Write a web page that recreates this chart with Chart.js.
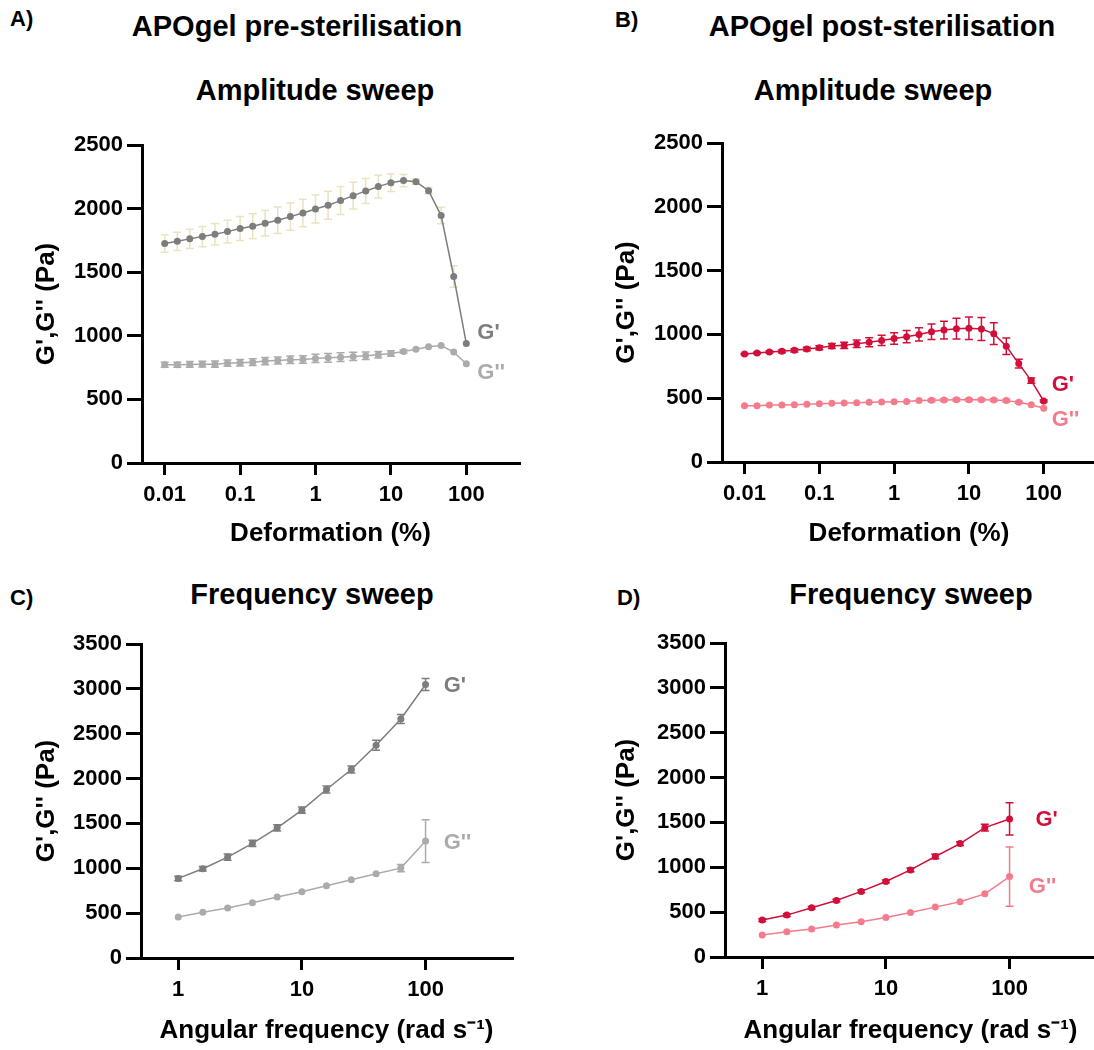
<!DOCTYPE html>
<html>
<head>
<meta charset="utf-8">
<script src="https://cdn.jsdelivr.net/npm/chart.js@4.4.0/dist/chart.umd.min.js"></script>
<style>
  html, body { margin: 0; padding: 0; background: #fff; overflow: hidden; }
  #page { position: relative; width: 1094px; height: 1050px; overflow: hidden; font-family: 'Liberation Sans', Arial, sans-serif; font-weight: bold; color: #000; }
  .t { position: absolute; white-space: nowrap; line-height: 1; }
  .panel { font-size: 22px; }
  .big { font-size: 29px; transform: translateX(-50%); }
  canvas { position: absolute; }
</style>
</head>
<body>
<div id="page">
  <div class="t panel" style="left:10px; top:8px;">A)</div>
  <div class="t panel" style="left:615px; top:9px;">B)</div>
  <div class="t panel" style="left:10px; top:587px;">C)</div>
  <div class="t panel" style="left:617px; top:587px;">D)</div>

  <div class="t big" style="left:297px; top:12px;">APOgel pre-sterilisation</div>
  <div class="t big" style="left:882px; top:12px;">APOgel post-sterilisation</div>
  <div class="t big" style="left:315px; top:76px;">Amplitude sweep</div>
  <div class="t big" style="left:873px; top:76px;">Amplitude sweep</div>
  <div class="t big" style="left:312px; top:580px;">Frequency sweep</div>
  <div class="t big" style="left:911px; top:580px;">Frequency sweep</div>

  <canvas id="cA" width="547" height="440" style="left:0px; top:120px;"></canvas>
  <canvas id="cB" width="540" height="440" style="left:560px; top:120px;"></canvas>
  <canvas id="cC" width="547" height="430" style="left:0px; top:620px;"></canvas>
  <canvas id="cD" width="540" height="430" style="left:560px; top:620px;"></canvas>
</div>
<script>
// strain (%) for amplitude sweeps, 6 points per decade
const strain = [0.01, 0.0147, 0.0215, 0.0316, 0.0464, 0.0681, 0.1, 0.147, 0.215, 0.316, 0.464, 0.681,
                1, 1.47, 2.15, 3.16, 4.64, 6.81, 10, 14.7, 21.5, 31.6, 46.4, 68.1, 100];
// angular frequency (rad/s), 5 points per decade
const freq = [1, 1.58, 2.51, 3.98, 6.31, 10, 15.8, 25.1, 39.8, 63.1, 100];

const strainTicks = [0.01, 0.1, 1, 10, 100];
const freqTicks = [1, 10, 100];

// A) pre-sterilisation, amplitude sweep
const preAmpG1 = [1725,1743,1762,1780,1798,1819,1843,1861,1885,1908,1937,1966,1997,2026,2063,2102,2139,2173,2204,2220,2212,2141,1945,1466,940];
const preAmpG1err = [69,72,76,80,85,90,94,98,101,104,107,108,110,110,110,105,98,89,69,48,20,24,65,85,0];
const preAmpG2 = [772,772,775,777,777,785,788,793,801,806,812,814,822,827,832,838,843,851,861,877,895,914,924,872,780];
const preAmpG2err = [20,20,22,22,24,24,26,26,28,28,30,30,32,34,34,32,30,26,22,12,0,0,0,0,0];

// B) post-sterilisation, amplitude sweep
const postAmpG1 = [846,854,862,867,875,886,896,909,914,927,938,953,967,982,1000,1021,1034,1045,1048,1042,1006,907,771,638,478];
const postAmpG1err = [5,6,8,10,12,14,16,20,25,30,35,40,45,48,52,60,70,82,88,90,86,65,35,20,8];
const postAmpG2 = [441,441,447,447,449,452,457,460,462,465,468,470,473,475,481,483,486,488,488,488,486,481,468,449,421];
const postAmpG2err = [0,0,0,0,0,0,0,0,0,0,0,0,0,0,0,10,10,10,10,10,10,10,8,0,0];

// C) pre-sterilisation, frequency sweep
const preFreqG1 = [887,995,1125,1277,1451,1648,1878,2101,2372,2665,3048];
const preFreqG1err = [25,25,35,35,35,35,38,40,55,50,67];
const preFreqG2 = [457,509,557,616,679,739,805,872,939,1002,1303];
const preFreqG2err = [0,0,0,0,0,0,0,0,0,40,238];

// D) post-sterilisation, frequency sweep
const postFreqG1 = [412,467,549,630,731,842,971,1120,1264,1442,1539];
const postFreqG1err = [15,15,15,15,15,15,22,25,20,37,180];
const postFreqG2 = [245,282,311,356,393,441,497,556,615,704,897];
const postFreqG2err = [0,0,0,0,0,0,0,0,0,0,330];

const grey1 = '#7d7d7d', grey2 = '#ababab', beige = '#ebe2bf';
const red1 = '#d0103a', red2 = '#f47b8c';

Chart.defaults.font.family = "'Liberation Sans', Arial, sans-serif";
Chart.defaults.font.weight = 'bold';
Chart.defaults.color = '#000';

// draws mean +/- SD bars under the points
const errorBars = {
  id: 'errorBars',
  beforeDatasetsDraw(chart) {
    const ctx = chart.ctx;
    const xs = chart.scales.x, ys = chart.scales.y;
    chart.data.datasets.forEach((ds) => {
      if (!ds.errors) return;
      ctx.save();
      ctx.strokeStyle = ds.errorColor || ds.borderColor;
      ctx.lineWidth = 1.5;
      ds.data.forEach((p, i) => {
        const e = ds.errors[i];
        if (!e) return;
        const x = xs.getPixelForValue(p.x);
        const y1 = ys.getPixelForValue(p.y - e);
        const y2 = ys.getPixelForValue(p.y + e);
        ctx.beginPath();
        ctx.moveTo(x, y1); ctx.lineTo(x, y2);
        ctx.moveTo(x - 4, y1); ctx.lineTo(x + 4, y1);
        ctx.moveTo(x - 4, y2); ctx.lineTo(x + 4, y2);
        ctx.stroke();
      });
      ctx.restore();
    });
  }
};

// G' / G'' labels next to the curve ends
function sideLabels(labels) {
  return {
    id: 'sideLabels',
    afterDatasetsDraw(chart) {
      const ctx = chart.ctx;
      ctx.save();
      ctx.font = "bold 22px 'Liberation Sans', Arial, sans-serif";
      ctx.textAlign = 'left';
      ctx.textBaseline = 'middle';
      labels.forEach((l) => {
        ctx.fillStyle = l.color;
        ctx.fillText(l.text, chart.scales.x.getPixelForValue(l.x), chart.scales.y.getPixelForValue(l.y));
      });
      ctx.restore();
    }
  };
}

function points(xs, ys) {
  return xs.map((x, i) => ({ x: x, y: ys[i] }));
}

function series(xs, ys, errs, color, errColor) {
  return {
    data: points(xs, ys),
    errors: errs,
    errorColor: errColor,
    borderColor: color,
    backgroundColor: color,
    borderWidth: 1.5,
    pointRadius: 3.5,
    pointBorderWidth: 0,
    pointBackgroundColor: color,
    tension: 0
  };
}

function makeChart(id, o) {
  return new Chart(document.getElementById(id), {
    type: 'line',
    data: { datasets: o.datasets },
    plugins: [errorBars, sideLabels(o.labels)],
    options: {
      responsive: false,
      animation: false,
      layout: { padding: o.pad },
      plugins: { legend: { display: false }, tooltip: { enabled: false } },
      scales: {
        x: {
          type: 'logarithmic',
          min: o.xmin, max: o.xmax,
          afterBuildTicks: (s) => { s.ticks = o.xticks.map((v) => ({ value: v })); },
          afterFit: (s) => { s.height = o.xh; },
          ticks: { font: { size: 22 }, padding: 7, maxRotation: 0, autoSkip: false, callback: (v) => String(v) },
          grid: { drawOnChartArea: false, drawTicks: true, tickLength: 12, lineWidth: 3, color: '#000' },
          border: { display: true, width: 3, color: '#000' },
          title: { display: true, text: o.xtitle, font: { size: 26 }, padding: { top: 0, bottom: o.xtpad } }
        },
        y: {
          min: 0, max: o.ymax,
          afterFit: (s) => { s.width = o.yw; },
          ticks: { stepSize: 500, font: { size: 22 }, padding: 4, callback: (v) => String(v) },
          grid: { drawOnChartArea: false, drawTicks: true, tickLength: 15, lineWidth: 3, color: '#000' },
          border: { display: true, width: 3, color: '#000' },
          title: { display: true, text: "G',G'' (Pa)", font: { size: 26 }, padding: { top: o.ytpad, bottom: 0 } }
        }
      }
    }
  });
}

makeChart('cA', {
  datasets: [series(strain, preAmpG1, preAmpG1err, grey1, beige), series(strain, preAmpG2, preAmpG2err, grey2)],
  labels: [{ text: "G'", x: 140, y: 1026, color: grey1 }, { text: "G''", x: 140, y: 707, color: grey2 }],
  pad: { left: 0, top: 25, right: 28, bottom: 0 },
  xmin: 0.005, xmax: 500, xticks: strainTicks, xh: 97, yw: 142, ymax: 2500,
  xtitle: 'Deformation (%)', xtpad: 11, ytpad: 31
});

makeChart('cB', {
  datasets: [series(strain, postAmpG1, postAmpG1err, red1), series(strain, postAmpG2, postAmpG2err, red2)],
  labels: [{ text: "G'", x: 128, y: 603, color: red1 }, { text: "G''", x: 128, y: 329, color: red2 }],
  pad: { left: 0, top: 23, right: 3, bottom: 0 },
  xmin: 0.005, xmax: 500, xticks: strainTicks, xh: 98, yw: 162, ymax: 2500,
  xtitle: 'Deformation (%)', xtpad: 11, ytpad: 51
});

makeChart('cC', {
  datasets: [series(freq, preFreqG1, preFreqG1err, grey1), series(freq, preFreqG2, preFreqG2err, grey2)],
  labels: [{ text: "G'", x: 140, y: 3032, color: grey1 }, { text: "G''", x: 140, y: 1282, color: grey2 }],
  pad: { left: 0, top: 24, right: 35, bottom: 0 },
  xmin: 0.5, xmax: 500, xticks: freqTicks, xh: 92, yw: 141, ymax: 3500,
  xtitle: 'Angular frequency (rad s\u207B\u00B9)', xtpad: 4, ytpad: 31
});

makeChart('cD', {
  datasets: [series(freq, postFreqG1, postFreqG1err, red1), series(freq, postFreqG2, postFreqG2err, red2)],
  labels: [{ text: "G'", x: 162, y: 1527, color: red1 }, { text: "G''", x: 143, y: 780, color: red2 }],
  pad: { left: 0, top: 23, right: 4, bottom: 0 },
  xmin: 0.5, xmax: 500, xticks: freqTicks, xh: 93, yw: 165, ymax: 3500,
  xtitle: 'Angular frequency (rad s\u207B\u00B9)', xtpad: 4, ytpad: 51
});
</script>
</body>
</html>
